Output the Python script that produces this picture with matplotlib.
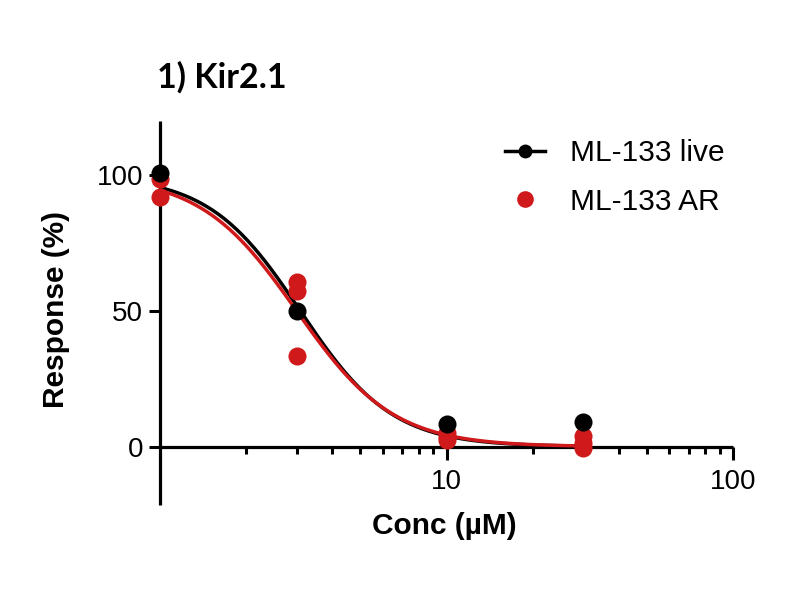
import numpy as np
import matplotlib
matplotlib.use("Agg")
import matplotlib.pyplot as plt
from matplotlib.lines import Line2D

# ---- data ----
live_conc = [1, 3, 10, 30]
live_resp = [101, 50, 8.3, 9]

ar_conc = [1, 1, 3, 3, 3, 10, 10, 10, 30, 30, 30]
ar_resp = [98.5, 92, 60.5, 57.5, 33.3, 5, 3.5, 2.5, 4, 1.5, -0.5]

# fitted dose-response parameters (top, bottom, IC50, Hill slope)
live_fit = dict(top=100.0, bottom=0.0, ic50=3.09, hill=2.71)
ar_fit = dict(top=100.0, bottom=0.0, ic50=3.0, hill=2.58)

x_ticks = [10, 100]
x_tick_labels = ["10", "100"]
x_minor = [2, 3, 4, 5, 6, 7, 8, 9, 20, 30, 40, 50, 60, 70, 80, 90]
y_ticks = [0, 50, 100]
y_tick_labels = ["0", "50", "100"]

BLACK = "#000000"
RED = "#d0191b"


def hill_curve(x, p):
    return p["bottom"] + (p["top"] - p["bottom"]) / (1 + (x / p["ic50"]) ** p["hill"])


fig = plt.figure(figsize=(8, 6), dpi=100)
ax = fig.add_axes([160 / 800, 1 - 505 / 600, 573 / 800, 384 / 600])

xs = np.logspace(0, np.log10(30), 300)
ax.plot(xs, hill_curve(xs, live_fit), color=BLACK, lw=2.5, zorder=3, solid_capstyle="butt")
ax.plot(xs, hill_curve(xs, ar_fit), color=RED, lw=2.5, zorder=3.5, solid_capstyle="butt")

ax.plot(ar_conc, ar_resp, "o", color=RED, ms=13, mec="none", zorder=4, clip_on=False)
ax.plot(live_conc, live_resp, "o", color=BLACK, ms=13, mec="none", zorder=5, clip_on=False)

ax.set_xscale("log")
ax.set_xlim(1, 100)
ax.set_ylim(-21.5, 120)

ax.spines["top"].set_visible(False)
ax.spines["right"].set_visible(False)
ax.spines["bottom"].set_position(("data", 0))
for s in ("left", "bottom"):
    ax.spines[s].set_linewidth(2.3)
    ax.spines[s].set_capstyle("butt")

ax.set_xticks(x_ticks)
ax.set_xticklabels(x_tick_labels)
ax.set_xticks(x_minor, minor=True)
ax.xaxis.set_minor_formatter(matplotlib.ticker.NullFormatter())
ax.set_yticks(y_ticks)
ax.set_yticklabels(y_tick_labels)

ax.tick_params(axis="x", which="major", direction="out", length=9, width=2.2, pad=7,
               labelsize=20)
ax.tick_params(axis="x", which="minor", direction="out", length=5, width=2.2)
ax.tick_params(axis="y", which="major", direction="out", length=8, width=2.2, pad=4,
               labelsize=20)
for lab in ax.get_xticklabels() + ax.get_yticklabels():
    lab.set_fontfamily("Liberation Sans")

ax.set_xlabel("Conc (µM)", fontsize=21.5, fontweight="bold", family="Liberation Sans")
ax.xaxis.set_label_coords((444 - 160) / 573, (505 - 512) / 384)
ax.set_ylabel("Response (%)", fontsize=21.5, fontweight="bold", family="Liberation Sans")
ax.yaxis.set_label_coords((70 - 160) / 573, (505 - 309) / 384)

fig.text(157 / 800, 1 - 88 / 600, "1) Kir2.1", fontsize=24.5, fontweight="bold",
         family="Lato", ha="left", va="baseline")

handles = [
    Line2D([], [], color=BLACK, lw=2.5, marker="o", ms=10, mec="none"),
    Line2D([], [], color=RED, lw=0, marker="o", ms=12, mec="none"),
]
leg = fig.legend(handles, ["ML-133 live", "ML-133 AR"], loc="upper left",
                 bbox_to_anchor=(505 / 800, 1 - 139 / 600), frameon=False,
                 borderpad=0, borderaxespad=0, handlelength=1.33, handletextpad=0.83,
                 labelspacing=0.7, prop={"family": "Liberation Sans", "size": 21.5})

fig.savefig("out.png", dpi=100)
